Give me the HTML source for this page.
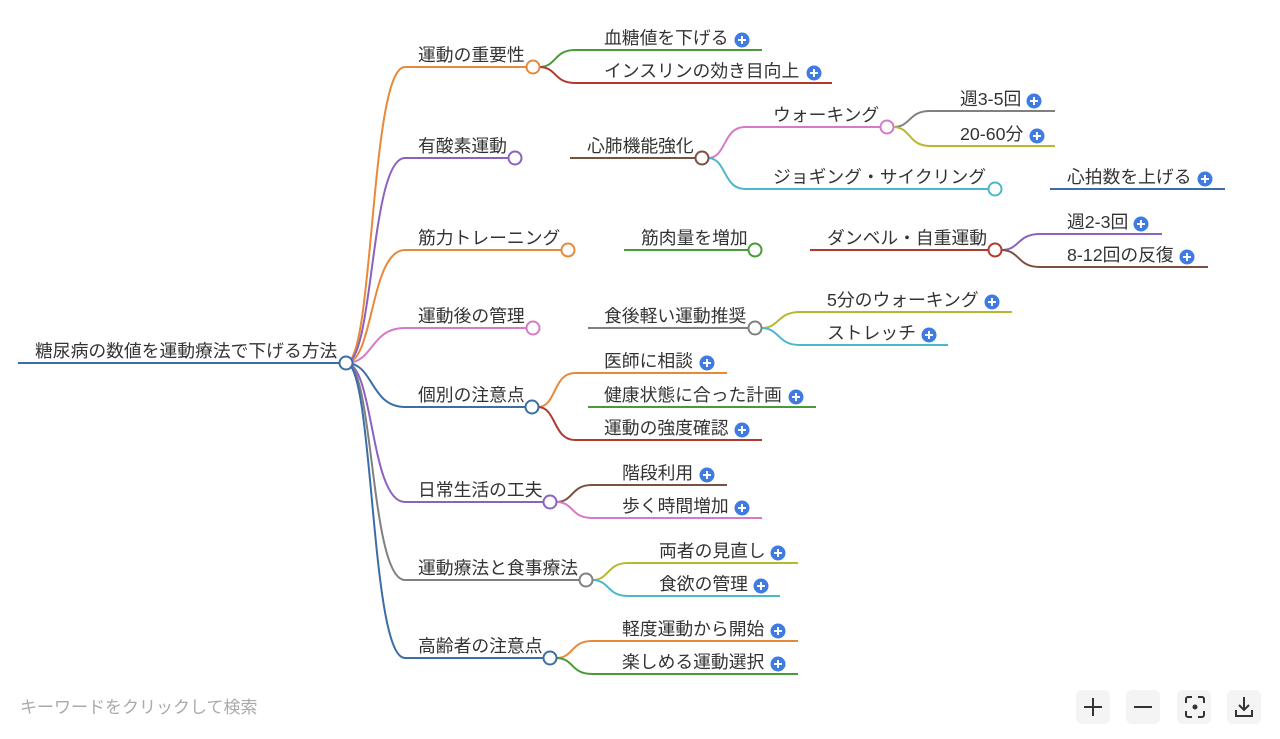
<!DOCTYPE html>
<html><head><meta charset="utf-8"><style>
body{margin:0;background:#fff;width:1280px;height:734px;overflow:hidden}
svg text{font-family:"Liberation Sans","Noto Sans CJK JP",sans-serif;font-size:17.8px;fill:#333}
</style></head><body>
<svg width="1280" height="734" viewBox="0 0 1280 734" xmlns="http://www.w3.org/2000/svg" fill="none" stroke-width="2">
<g id="g"></g>
<text x="20" y="713" style="font-size:17px;fill:#aaa">キーワードをクリックして検索</text>
<g>
<rect x="1076" y="690" width="34" height="34" rx="6" fill="#f4f4f4"/>
<path d="M1084 707h18M1093 698v18" stroke="#333" stroke-width="2"/>
<rect x="1126" y="690" width="34" height="34" rx="6" fill="#f4f4f4"/>
<path d="M1134 707h18" stroke="#333" stroke-width="2"/>
<rect x="1177" y="690" width="34" height="34" rx="6" fill="#f4f4f4"/>
<path d="M1186 703v-4a2 2 0 0 1 2-2h4M1198 697h4a2 2 0 0 1 2 2v4M1204 711v4a2 2 0 0 1-2 2h-4M1192 717h-4a2 2 0 0 1-2-2v-4" stroke="#333" stroke-width="2"/>
<circle cx="1195" cy="707" r="2.5" fill="#333"/>
<rect x="1227" y="690" width="34" height="34" rx="6" fill="#f4f4f4"/>
<path d="M1244 697v13M1239 705l5 5 5-5M1236 710v6h16v-6" stroke="#333" stroke-width="2"/>
</g>
</svg>
<script>
const g=document.getElementById('g');let h='';
const C={or:'#e8893a',pu:'#8b62c0',pk:'#d67ac8',bl:'#3a6ea5',gy:'#808080',gr:'#4a9a3a',rd:'#b03a30',br:'#7a5040',ol:'#b8b830',tl:'#4ab8c8'};
function line(d,c){h+=`<path d="${d}" stroke="${c}" stroke-width="2" fill="none"/>`}
function circ(x,y,c){h+=`<circle cx="${x}" cy="${y}" r="6.5" fill="#fff" stroke="${c}" stroke-width="2"/>`}
function txt(x,y,t){h+=`<text x="${x}" y="${y-6}">${t}</text>`}
function plus(x,y){h+=`<circle cx="${x}" cy="${y}" r="7.5" fill="#3f7be0"/><path d="M${x-4} ${y}h8M${x} ${y-4}v8" stroke="#fff" stroke-width="2"/>`}
function curve(x1,y1,x2,y2,c){const m=(x2-x1);line(`M${x1} ${y1} C${x1+m*0.5} ${y1} ${x1+m*0.4} ${y2} ${x2} ${y2}`,c)}
const L1=[['運動の重要性',67,'or',533],['有酸素運動',158,'pu',515],['筋力トレーニング',250,'or',568],['運動後の管理',328,'pk',533],['個別の注意点',407,'bl',532],['日常生活の工夫',502,'pu',550],['運動療法と食事療法',580,'gy',586],['高齢者の注意点',658,'bl',550]];
L1.forEach(([t,y,c,cx])=>{line(`M346 363 C374 363 370 ${y} 405 ${y} L${cx-6} ${y}`,C[c]);txt(418,y,t);});
line('M18 363 L340 363',C.bl);txt(35,363,'糖尿病の数値を運動療法で下げる方法');
function leaf(px,py,x0,tx,y,end,c,t,p){curve(px+6,py,x0,y,C[c]);line(`M${x0} ${y} L${end} ${y}`,C[c]);txt(tx,y,t);if(p)plus(p,y-10);}
leaf(533,67,575,604,50,762,'gr','血糖値を下げる',742);
leaf(533,67,575,604,83,832,'rd','インスリンの効き目向上',814);
line('M570 158 L696 158',C.br);txt(587,158,'心肺機能強化');
leaf(702,158,745,773,127,881,'pk','ウォーキング');
leaf(702,158,745,773,189,989,'tl','ジョギング・サイクリング');
leaf(887,127,930,960,111,1055,'gy','週3-5回',1034);
leaf(887,127,930,960,146,1055,'ol','20-60分',1037);
line('M1050 189 L1225 189',C.bl);txt(1067,189,'心拍数を上げる');plus(1205,179);
line('M624 250 L749 250',C.gr);txt(641,250,'筋肉量を増加');
line('M810 250 L989 250',C.rd);txt(827,250,'ダンベル・自重運動');
leaf(995,250,1040,1067,234,1162,'pu','週2-3回',1141);
leaf(995,250,1040,1067,267,1208,'br','8-12回の反復',1187);
line('M588 328 L749 328',C.gy);txt(604,328,'食後軽い運動推奨');
leaf(755,328,800,827,312,1012,'ol','5分のウォーキング',992);
leaf(755,328,800,827,345,948,'tl','ストレッチ',929);
leaf(532,407,575,604,373,727,'or','医師に相談',707);
line('M588 407 L816 407',C.gr);txt(604,407,'健康状態に合った計画');plus(796,397);
leaf(532,407,575,604,440,762,'rd','運動の強度確認',742);
leaf(550,502,592,622,485,727,'br','階段利用',707);
leaf(550,502,592,622,518,762,'pk','歩く時間増加',742);
leaf(586,580,628,659,563,798,'ol','両者の見直し',778);
leaf(586,580,628,659,596,780,'tl','食欲の管理',761);
leaf(550,658,592,622,641,798,'or','軽度運動から開始',778);
leaf(550,658,592,622,674,798,'gr','楽しめる運動選択',778);
L1.forEach(([t,y,c,cx])=>circ(cx,y,C[c]));
circ(346,363,C.bl);circ(702,158,C.br);circ(887,127,C.pk);circ(995,189,C.tl);circ(755,250,C.gr);circ(995,250,C.rd);circ(755,328,C.gy);
g.innerHTML=h;
</script>
</body></html>
